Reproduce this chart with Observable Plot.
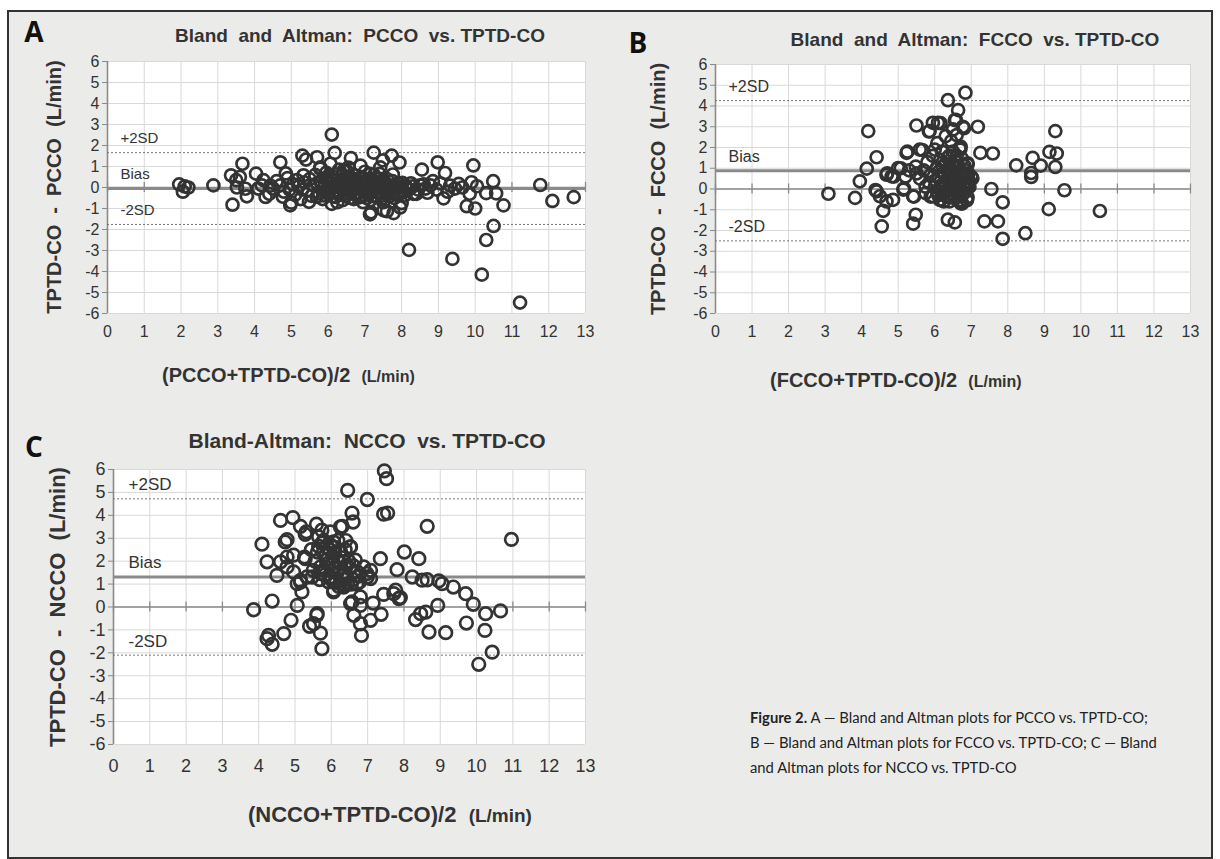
<!DOCTYPE html>
<html><head><meta charset="utf-8">
<script src="https://cdn.jsdelivr.net/npm/d3@7"></script>
<script src="https://cdn.jsdelivr.net/npm/@observablehq/plot@0.6"></script>
<style>
body{margin:0;background:#fff;}
#page{position:relative;width:1220px;height:859px;background:#fff;overflow:hidden;font-family:"Liberation Sans",Arial,sans-serif;}
#frame{position:absolute;left:7px;top:10px;width:1202px;height:845px;border:2px solid #333;background:#ebecea;}
.svgbox{position:absolute;}
.t{position:absolute;white-space:nowrap;color:#333;}
.title{font-weight:bold;transform:translate(-50%,-50%);}
.letter{font-family:"Open Sans","Noto Sans",sans-serif;font-weight:bold;color:#111;transform:translate(-50%,-50%);}
.ylab{font-weight:bold;transform:translate(-50%,-50%) rotate(-90deg);}
.xlab{font-weight:bold;transform:translateY(-50%);}
.cap{font-family:"Lato","Open Sans",sans-serif;color:#222;line-height:25px;}
</style></head>
<body><div id="page"><div id="frame"></div></div>
<script>
// ---------------- data ----------------
const xTicks = [0,1,2,3,4,5,6,7,8,9,10,11,12,13];
const yTicks = [-6,-5,-4,-3,-2,-1,0,1,2,3,4,5,6];
const lineLabels = ["+2SD","Bias","-2SD"];

// Panel A: PCCO vs TPTD-CO  [mean, difference]
const pccoPoints = [
[1.95,0.15],[2.05,-0.2],[2.2,0.0],[2.1,0.05],[2.88,0.1],
[3.36,0.58],[3.4,-0.82],[3.5,0.35],[3.67,1.13],[3.52,0.0],[3.79,-0.42],[3.6,0.5],[3.75,-0.06],
[4.04,0.66],[4.24,0.35],[4.3,-0.45],[4.1,-0.05],[4.43,0.09],
[4.7,1.2],[4.85,0.67],[4.7,0.1],[5.0,-0.72],[4.77,-0.44],[4.5,-0.05],[4.97,-0.85],
[5.3,1.52],[5.4,1.33],[5.15,0.35],[5.48,-0.68],[5.33,0.58],
[5.7,1.44],[5.78,0.9],[5.69,-0.44],
[6.1,2.52],[6.18,1.65],[6.1,-0.78],[6.06,1.13],[6.62,1.4],[6.5,0.8],
[7.24,1.66],[7.14,-1.28],[7.17,-1.18],[7.49,1.29],[7.73,1.52],[7.94,1.19],[7.76,0.62],[7.78,-1.22],[7.6,-1.13],[7.96,-0.95],[8.0,-0.74],[7.51,-1.09],
[8.2,-2.97],[8.55,0.85],[8.98,1.2],[9.18,0.69],[8.78,0.1],[9.14,-0.52],[8.32,-0.3],
[9.38,-3.4],[9.95,1.05],[9.77,-0.89],[10.0,-1.0],[9.9,0.25],[10.05,0.06],[9.32,0.09],[9.55,0.17],
[10.18,-4.15],[10.3,-2.5],[10.5,-1.83],[10.49,0.3],[10.3,-0.27],[10.57,-0.28],[10.77,-0.85],
[11.22,-5.48],[11.77,0.12],[12.1,-0.64],[12.68,-0.46],
[6.88,1.04],[7.15,0.64],[7.42,0.96],[5.97,0.49],[6.42,0.8],[5.79,0.96],
[4.6,0.3],[4.8,-0.2],[4.9,0.45],[5.05,0.15],[5.1,-0.35],[5.2,0.05],[5.25,-0.55],[5.35,0.25],[5.45,-0.15],[5.5,0.4],
[5.55,-0.4],[5.6,0.1],[5.65,0.6],[5.75,-0.25],[5.8,0.3],[5.85,-0.55],[5.9,0.05],[5.95,0.7],[6.0,-0.3],[6.05,0.25],
[6.1,-0.05],[6.15,0.5],[6.2,-0.45],[6.25,0.15],[6.3,-0.2],[6.3,0.85],[6.35,0.35],[6.4,-0.6],[6.45,0.05],[6.5,0.45],
[6.55,-0.3],[6.6,0.2],[6.65,-0.1],[6.7,0.6],[6.7,-0.55],[6.75,0.3],[6.8,-0.25],[6.85,0.05],[6.9,0.5],[6.9,-0.45],
[6.95,0.15],[7.0,-0.15],[7.0,0.75],[7.05,0.35],[7.1,-0.35],[7.1,0.1],[7.15,-0.6],[7.2,0.25],[7.25,-0.1],[7.3,0.45],
[7.3,-0.45],[7.35,0.05],[7.4,-0.25],[7.45,0.3],[7.5,-0.05],[7.5,-0.7],[7.55,0.15],[7.6,-0.35],[7.65,0.05],[7.7,-0.15],
[7.75,0.3],[7.8,-0.5],[7.85,-0.05],[7.9,0.2],[7.95,-0.3],[8.0,0.05],[8.05,-0.2],[8.1,0.1],[8.2,-0.1],[8.3,0.05],
[8.45,-0.1],[8.6,0.15],[8.7,-0.25],[8.85,0.3],[8.95,-0.1],[9.05,0.2],[9.25,-0.2],[9.45,-0.05],[9.65,0.0],[9.85,-0.3],
[6.55,0.95],[6.25,-0.7],[6.95,-0.7],[7.4,0.65],[5.9,-0.2],[6.6,-0.5],[7.05,-0.5],[7.25,0.6],[6.4,0.6],[7.6,0.4],
[6.8,0.1],[7.2,-0.2],[6.65,0.35],[7.45,-0.4],[6.0,0.35],[5.7,0.2],[5.3,-0.1],[4.95,-0.1],[4.4,-0.3],[4.2,0.1],
[5.82,0.12],[5.88,-0.38],[5.93,0.42],[6.02,-0.12],[6.08,0.38],[6.12,-0.42],[6.18,0.08],[6.22,0.62],[6.28,-0.28],[6.33,0.12],
[6.38,-0.08],[6.43,0.28],[6.48,-0.42],[6.52,0.18],[6.58,-0.18],[6.62,0.48],[6.68,0.08],[6.72,-0.32],[6.78,0.18],[6.82,-0.48],
[6.88,0.28],[6.92,-0.08],[6.97,0.42],[7.02,0.02],[7.07,-0.28],[7.12,0.32],[7.17,-0.12],[7.22,0.08],[7.27,-0.38],[7.32,0.22],
[7.37,-0.18],[7.42,0.08],[7.47,-0.52],[7.52,0.32],[7.57,-0.22],[7.62,0.12],[7.67,-0.42],[7.72,0.02],[7.77,-0.28],[7.82,0.12],
[7.87,-0.32],[7.92,0.02],[7.97,-0.12],[8.02,0.22],[8.08,-0.38],[8.15,-0.05],[8.25,0.2],[8.4,-0.3],[8.5,0.1],[8.65,-0.05]
];
const pccoLines = [1.66, -0.05, -1.76];

// Panel B: FCCO vs TPTD-CO
const fccoPoints = [
[3.09,-0.23],[3.82,-0.43],[3.95,0.37],[4.14,0.98],[4.18,2.79],[4.41,1.53],[4.41,-0.11],[4.5,-0.35],[4.59,-1.05],[4.55,-1.8],
[4.68,-0.6],[4.86,-0.52],[4.68,0.69],[4.82,0.61],[5.0,1.01],[5.14,-0.03],[5.41,-0.35],[5.48,-1.24],[5.41,-1.67],[5.5,3.06],
[5.95,3.19],[6.09,3.19],[6.16,3.17],[6.36,4.28],[6.84,4.64],[6.64,3.8],[6.55,3.32],[6.77,3.0],[7.18,3.0],[5.86,2.79],
[6.5,2.87],[6.68,1.98],[5.23,1.74],[5.59,1.9],[7.25,1.74],[7.59,1.71],[6.36,-1.48],[6.55,-1.61],[5.95,-0.35],[6.14,-0.52],
[6.68,-0.6],[7.55,0.0],[7.86,-0.64],[7.36,-1.56],[7.73,-1.56],[7.86,-2.4],[8.48,-2.13],[8.23,1.14],[8.68,1.5],[8.64,0.77],
[8.64,0.58],[8.9,1.13],[9.14,1.79],[9.3,2.79],[9.34,1.71],[9.3,1.06],[9.12,-0.97],[9.55,-0.06],[7.0,0.58],[6.9,1.18],[10.52,-1.06],
[4.38,-0.05],[4.7,0.76],[4.88,0.6],[5.25,1.8],[5.48,1.08],[5.07,1.0],[5.16,0.03],[5.43,-0.37],[5.66,1.88],[5.75,0.11],
[5.89,-0.37],[6.07,2.21],[6.16,-0.53],[6.35,0.92],[6.53,0.43],[6.71,-0.53],[6.71,-0.69],[6.9,1.24],[7.03,0.52],[6.9,0.11],
[6.71,2.04],[5.84,2.77],[6.58,3.33],[6.8,2.93],
[5.6,0.5],[5.7,0.9],[5.75,-0.2],[5.8,1.3],[5.85,0.3],[5.9,0.7],[5.95,1.6],[6.0,0.1],[6.05,1.0],[6.1,-0.3],
[6.1,0.55],[6.15,1.4],[6.2,0.2],[6.25,0.8],[6.3,-0.1],[6.3,1.2],[6.35,0.45],[6.4,-0.4],[6.4,1.6],[6.45,0.1],
[6.45,0.95],[6.5,0.6],[6.5,-0.25],[6.55,1.35],[6.55,0.25],[6.6,-0.1],[6.6,0.8],[6.65,1.1],[6.65,0.4],[6.7,-0.35],
[6.7,0.05],[6.75,0.7],[6.75,1.45],[6.8,0.3],[6.8,-0.2],[6.85,0.9],[6.85,0.15],[6.9,0.55],[6.9,-0.4],[6.95,0.35],
[5.5,0.75],[5.3,0.9],[5.2,0.6],[6.2,1.8],[6.45,2.3],[6.6,2.6],[6.3,2.55],[6.0,1.9],[6.4,-0.6],[6.55,-0.45],
[6.02,0.42],[6.08,-0.18],[6.12,0.85],[6.18,0.05],[6.22,1.1],[6.28,0.35],[6.32,-0.35],[6.38,0.7],[6.42,0.2],[6.48,1.2],
[6.52,-0.05],[6.58,0.55],[6.62,1.0],[6.62,-0.3],[6.68,0.25],[6.72,0.85],[6.72,-0.15],[6.78,0.5],[6.82,1.1],[6.82,0.0],
[6.88,0.35],[6.88,-0.55],[6.92,0.75],[6.95,0.1],[6.35,1.5],[6.5,1.8],[6.6,1.6],[6.7,1.9],[6.25,-0.6],[6.75,-0.7]
];
const fccoLines = [4.26, 0.88, -2.5];

// Panel C: NCCO vs TPTD-CO
const nccoPoints = [
[7.46,5.94],[7.52,5.6],[6.45,5.09],[6.99,4.69],[7.44,4.05],[7.55,4.1],[6.57,4.1],[6.6,3.71],[8.64,3.52],[10.96,2.95],
[4.6,3.78],[4.94,3.9],[5.15,3.52],[5.28,3.17],[5.59,3.61],[4.78,2.94],[4.73,2.84],[4.09,2.74],[4.23,1.97],[4.6,1.97],
[4.78,1.75],[4.5,1.38],[4.96,2.26],[5.15,1.16],[5.19,0.66],[5.26,2.18],[5.65,3.06],[5.79,2.91],[5.97,3.28],[5.88,2.62],
[6.3,3.52],[6.25,2.47],[6.53,2.62],[6.43,1.82],[6.07,1.67],[5.97,1.31],[6.07,0.73],[6.25,1.02],[6.62,1.53],[6.89,1.75],
[6.99,1.31],[7.35,2.11],[7.81,1.63],[8.01,2.4],[8.41,2.11],[8.23,1.31],[8.64,1.19],[8.96,1.14],[9.05,1.02],[9.36,0.87],
[9.7,0.58],[9.91,0.12],[10.25,-0.29],[10.66,-0.17],[10.23,-1.02],[10.43,-1.97],[10.06,-2.5],[9.72,-0.7],[9.15,-1.12],[8.69,-1.09],
[8.93,0.07],[8.46,-0.29],[8.32,-0.55],[8.6,-0.22],[7.77,0.73],[7.9,0.41],[7.44,0.55],[7.37,-0.32],[7.15,0.17],[7.08,-0.58],
[6.83,-1.24],[6.8,-0.73],[6.62,-0.36],[6.53,0.15],[6.8,0.07],[5.74,-1.82],[5.7,-1.14],[5.61,-0.29],[5.51,-0.73],[5.4,-0.84],
[5.06,0.07],[4.89,-0.58],[4.69,-1.16],[4.37,-1.63],[4.23,-1.38],[4.27,-1.24],[4.37,0.26],[3.86,-0.12],[5.06,1.02],[5.47,1.31],
[5.7,1.46],[6.3,1.38],[6.34,0.87],[7.08,1.6],[7.72,0.58],
[5.31,3.28],[5.74,3.35],[6.25,3.49],[5.65,2.65],[6.06,2.84],[6.52,2.62],[4.78,2.18],[5.28,2.11],[4.96,1.53],[5.33,1.31],
[5.7,1.75],[6.06,1.9],[6.34,1.46],[6.66,2.04],[7.08,1.24],[6.98,1.46],[8.5,1.17],[5.6,-0.36],[6.06,0.66],[6.57,0.22],
[6.8,0.44],[7.86,0.37],[5.15,1.09],
[5.85,2.3],[5.95,2.5],[6.05,2.2],[6.1,2.6],[6.2,2.0],[6.15,1.5],[5.9,1.9],[6.0,1.2],[6.35,1.2],[6.45,1.0],
[6.6,1.2],[6.7,1.0],[6.2,0.9],[5.8,1.6],[6.5,1.7],[6.75,1.35],
[5.55,2.0],[5.62,2.4],[5.68,1.2],[5.75,2.8],[5.82,1.4],[5.86,2.05],[5.92,1.1],[5.98,2.7],[6.02,1.55],[6.08,2.35],
[6.12,1.05],[6.18,2.9],[6.22,1.7],[6.28,2.15],[6.32,0.95],[6.38,2.5],[6.42,1.3],[6.48,2.0],[6.55,1.0],[6.6,1.8],
[6.7,1.55],[6.78,1.1],[5.5,1.6],[5.45,2.5],[6.4,2.9]
];
const nccoLines = [4.72, 1.31, -2.1];

// ---------------- drawing ----------------
const page = document.getElementById("page");

function panel(points, lines, o) {
  const refs = lineLabels.map((label, i) => ({label, value: lines[i]}));
  const tk = 5 / ((o.height - o.mt - o.mb) / 12);
  const chart = Plot.plot({
    width: o.width, height: o.height,
    marginLeft: o.ml, marginRight: o.mr, marginTop: o.mt, marginBottom: o.mb,
    style: {background: "transparent", fontFamily: "'Liberation Sans', Arial, sans-serif", fontSize: o.fs + "px", overflow: "visible"},
    x: {domain: [0, 13]},
    y: {domain: [-6, 6]},
    marks: [
      Plot.frame({fill: "white", stroke: null}),
      Plot.gridX(xTicks, {stroke: "#d9d9d9", strokeOpacity: 1, strokeWidth: 1}),
      Plot.gridY(yTicks, {stroke: "#d9d9d9", strokeOpacity: 1, strokeWidth: 1}),
      Plot.ruleY([0], {stroke: "#8a8a8a", strokeWidth: 1.6}),
      Plot.ruleX(xTicks, {x: d => d, y1: -tk, y2: tk, stroke: "#8a8a8a", strokeWidth: 1.3}),
      Plot.ruleX([0], {stroke: "#8a8a8a", strokeWidth: 1.6}),
      Plot.ruleY([lines[0], lines[2]], {stroke: "#777", strokeWidth: 1, strokeDasharray: "2,2"}),
      Plot.ruleY([lines[1]], {stroke: "#8a8a8a", strokeWidth: 3}),
      Plot.axisY(yTicks, {tickSize: 5, tickPadding: 3, stroke: "#8a8a8a", fill: "#333", fontSize: o.fs, label: null, tickFormat: d => String(d)}),
      Plot.axisX(xTicks, {tickSize: 0, tickPadding: o.xpad, fill: "#333", fontSize: o.fs, label: null, tickFormat: d => String(d)}),
      Plot.text(refs, {x: 0, y: "value", text: "label", dx: o.ldx, dy: -o.ldy, textAnchor: "start", fontSize: o.lfs, fill: "#333"}),
      Plot.dot(points, {x: d => d[0], y: d => d[1], r: o.r, stroke: "#333", strokeWidth: 2.7, fill: "none"})
    ]
  });
  const box = document.createElement("div");
  box.className = "svgbox";
  box.style.left = o.left + "px";
  box.style.top = o.top + "px";
  box.appendChild(chart);
  page.appendChild(box);
}

panel(pccoPoints, pccoLines, {left: 0, top: 0, width: 600, height: 345, ml: 107, mr: 15, mt: 61, mb: 32, fs: 16, xpad: 12, r: 6, ldx: 13, ldy: 14, lfs: 15});
panel(fccoPoints, fccoLines, {left: 610, top: 0, width: 600, height: 345, ml: 105, mr: 20, mt: 64, mb: 32, fs: 16, xpad: 12, r: 6, ldx: 13, ldy: 14, lfs: 16});
panel(nccoPoints, nccoLines, {left: 0, top: 420, width: 600, height: 360, ml: 113, mr: 15, mt: 49, mb: 36, fs: 18, xpad: 15, r: 6.3, ldx: 15, ldy: 14, lfs: 17});

function addText(cls, html, x, y, size, extra) {
  const d = document.createElement("div");
  d.className = "t " + cls;
  d.style.left = x + "px";
  d.style.top = y + "px";
  d.style.fontSize = size + "px";
  if (extra) Object.assign(d.style, extra);
  d.innerHTML = html;
  page.appendChild(d);
}
addText("letter", "A", 34, 31, 28);
addText("letter", "B", 638, 42, 28);
addText("letter", "C", 34, 446, 28);
addText("title", "Bland&nbsp; and&nbsp; Altman:&nbsp; PCCO&nbsp; vs.&nbsp;TPTD-CO", 360, 36, 19);
addText("title", "Bland&nbsp; and&nbsp; Altman:&nbsp; FCCO&nbsp; vs.&nbsp;TPTD-CO", 975, 40, 19);
addText("title", "Bland-Altman:&nbsp; NCCO&nbsp; vs.&nbsp;TPTD-CO", 367, 441, 21);
addText("ylab", "TPTD-CO&nbsp; -&nbsp; PCCO&nbsp; (L/min)", 54, 187, 20);
addText("ylab", "TPTD-CO&nbsp; -&nbsp; FCCO&nbsp; (L/min)", 658, 189, 20);
addText("ylab", "TPTD-CO&nbsp; -&nbsp; NCCO&nbsp; (L/min)", 58, 607, 22);
addText("xlab", "(PCCO+TPTD-CO)/2&nbsp; <span style='font-size:16px'>(L/min)</span>", 162, 375, 20);
addText("xlab", "(FCCO+TPTD-CO)/2&nbsp; <span style='font-size:16px'>(L/min)</span>", 770, 380, 20);
addText("xlab", "(NCCO+TPTD-CO)/2&nbsp; <span style='font-size:19px'>(L/min)</span>", 248, 815, 22);
addText("cap", "<b>Figure 2.</b> A — Bland and Altman plots for PCCO vs. TPTD-CO;<br>B — Bland and Altman plots for FCCO vs. TPTD-CO; C — Bland<br>and Altman plots for NCCO vs. TPTD-CO", 750, 705, 14.8);
</script>
</body></html>
